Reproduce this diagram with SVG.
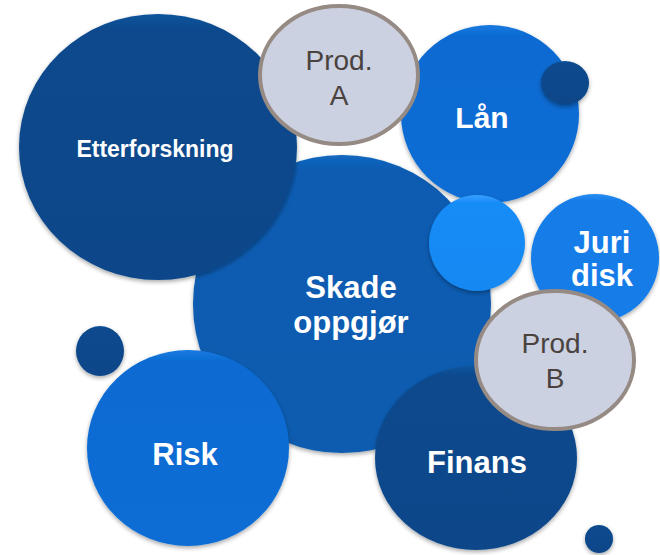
<svg xmlns="http://www.w3.org/2000/svg" width="660" height="555" viewBox="0 0 660 555">
<defs>
<filter id="sh" x="-20%" y="-20%" width="140%" height="140%">
<feDropShadow dx="0" dy="2" stdDeviation="2" flood-color="#000" flood-opacity="0.35"/>
</filter>
<linearGradient id="dark" x1="0" y1="0" x2="0" y2="1"><stop offset="0" stop-color="#11559c"/><stop offset="0.06" stop-color="#09488c"/><stop offset="1" stop-color="#08478a"/></linearGradient>
<linearGradient id="mid" x1="0" y1="0" x2="0" y2="1"><stop offset="0" stop-color="#1468c0"/><stop offset="0.05" stop-color="#0a5cb2"/><stop offset="1" stop-color="#0a5bb0"/></linearGradient>
<linearGradient id="blue" x1="0" y1="0" x2="0" y2="1"><stop offset="0" stop-color="#1a7ae0"/><stop offset="0.06" stop-color="#0a6bd2"/><stop offset="1" stop-color="#0a6dd5"/></linearGradient>
<linearGradient id="light" x1="0" y1="0" x2="0" y2="1"><stop offset="0" stop-color="#2a8cf0"/><stop offset="0.06" stop-color="#137ce8"/><stop offset="1" stop-color="#127ce8"/></linearGradient>
<linearGradient id="bright" x1="0" y1="0" x2="0" y2="1"><stop offset="0" stop-color="#3aa0ff"/><stop offset="0.08" stop-color="#168cf7"/><stop offset="1" stop-color="#1488f2"/></linearGradient>
</defs>
<style>
.b{filter:url(#sh)}
.t{font-family:"Liberation Sans",Arial,sans-serif;font-weight:bold;fill:#fff;text-anchor:middle}
.p{fill:#cbd1e0;stroke:#968a84;stroke-width:4}
.pt{font-family:"Liberation Sans",Arial,sans-serif;font-size:28px;fill:#4a423e;text-anchor:middle}
</style>
<g id="skade"><circle class="b" cx="342" cy="304" r="149" fill="url(#mid)"/><text class="t" font-size="31" x="351" y="298">Skade</text><text class="t" font-size="31" x="351" y="333">oppgjør</text></g>
<g id="etterforskning"><ellipse class="b" cx="158" cy="147" rx="139" ry="133" fill="url(#dark)"/><text class="t" font-size="23" x="155" y="157">Etterforskning</text></g>
<g id="lan"><circle class="b" cx="490" cy="114" r="89" fill="url(#blue)"/><text class="t" font-size="30" x="482" y="128">Lån</text></g>
<g id="prodA"><ellipse class="p" cx="339" cy="75" rx="79" ry="69"/><text class="pt" x="339" y="70">Prod.</text><text class="pt" x="339" y="105">A</text></g>
<g id="dot1"><ellipse class="b" cx="565" cy="83" rx="24" ry="22" fill="url(#dark)"/></g>
<g id="bright"><circle class="b" cx="477" cy="243" r="48" fill="url(#bright)"/></g>
<g id="juridisk"><circle class="b" cx="595" cy="258" r="64" fill="url(#light)"/><text class="t" font-size="31" x="602" y="253">Juri</text><text class="t" font-size="31" x="602" y="286">disk</text></g>
<g id="risk"><ellipse class="b" cx="188" cy="448" rx="101" ry="98" fill="url(#blue)"/><text class="t" font-size="31" x="185" y="465">Risk</text></g>
<g id="dot2"><ellipse class="b" cx="100" cy="351" rx="24" ry="25" fill="url(#dark)"/></g>
<g id="finans"><ellipse class="b" cx="476" cy="458" rx="101" ry="92" fill="url(#dark)"/><text class="t" font-size="31" x="477" y="473">Finans</text></g>
<g id="prodB"><ellipse class="p" cx="555" cy="360" rx="79" ry="69"/><text class="pt" x="555" y="353">Prod.</text><text class="pt" x="555" y="388">B</text></g>
<g id="dot3"><circle class="b" cx="599" cy="539" r="14" fill="url(#dark)"/></g>
</svg>
